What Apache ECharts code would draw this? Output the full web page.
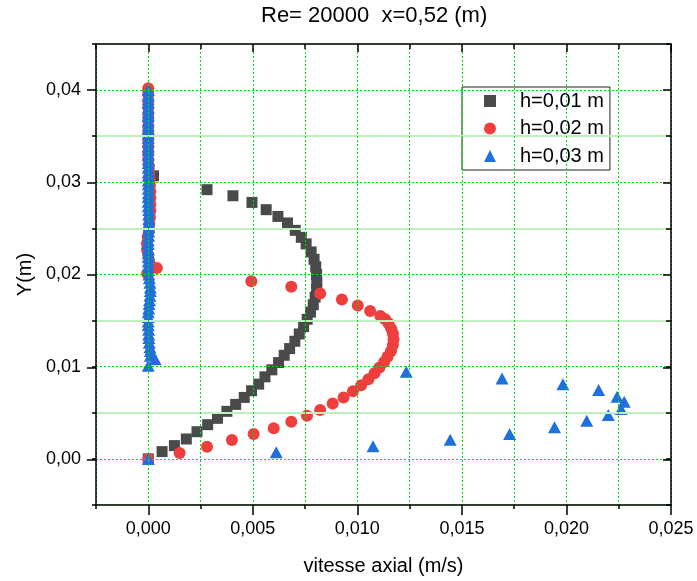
<!DOCTYPE html>
<html>
<head>
<meta charset="utf-8">
<script src="https://cdn.jsdelivr.net/npm/echarts@6/dist/echarts.min.js"></script>
<style>html,body{margin:0;padding:0;background:#fff}#c{width:697px;height:581px}</style>
</head>
<body>
<div id="c"></div>
<script>
// ---- data ----
const titleText = 'Re= 20000  x=0,52 (m)';
const xName = 'vitesse axial (m/s)';
const yName = 'Y(m)';
const seriesNames = ['h=0,01 m', 'h=0,02 m', 'h=0,03 m'];

const xMajorTicks = [0, 0.005, 0.01, 0.015, 0.02, 0.025];
const yMajorTicks = [0, 0.01, 0.02, 0.03, 0.04];

// h = 0,01 m
const blackX = [0, 0.00066, 0.00125, 0.00182, 0.00233, 0.00284, 0.00331, 0.00376, 0.00418, 0.00459,
  0.00494, 0.00528, 0.00558, 0.00591, 0.00623, 0.0065, 0.00676, 0.00701, 0.00722, 0.00743,
  0.0076, 0.00776, 0.00789, 0.00798, 0.00805, 0.00806, 0.00805, 0.00801, 0.00793, 0.00779,
  0.00755, 0.00732, 0.00703, 0.00666, 0.0062, 0.00564, 0.00496, 0.00405, 0.00281, 0.00025];
const blackY = [0, 0.00079, 0.00144, 0.00216, 0.00295, 0.00371, 0.0044, 0.00516, 0.00591, 0.00667,
  0.00739, 0.00811, 0.0089, 0.00966, 0.01045, 0.01124, 0.01196, 0.01276, 0.01355, 0.01435,
  0.01514, 0.01592, 0.01672, 0.01755, 0.01838, 0.01917, 0.02, 0.02083, 0.02165, 0.02245,
  0.02332, 0.02403, 0.02479, 0.02559, 0.0263, 0.02703, 0.02782, 0.02854, 0.0292, 0.0307];

// h = 0,02 m
const redX = [0, 0.0015, 0.00281, 0.004, 0.00504, 0.006, 0.00684, 0.00759, 0.00822, 0.00882,
  0.00934, 0.00979, 0.01018, 0.01053, 0.01082, 0.01106, 0.01128, 0.01145, 0.01161, 0.0117,
  0.01173, 0.0117, 0.01162, 0.01149, 0.01133, 0.0111, 0.01061, 0.01002, 0.00926, 0.00822,
  0.00684, 0.00493, -0.00005, 0.00041, 0.00005, 0, -0.00006, -0.00006, -0.00003, 0.00003,
  0.00005, 0.00008, 0.0001, 0.0001, 0.0001, 0.0001, 0.00008, 0.00005, 0.00005, 0.00003,
  0, 0, 0, 0, 0, 0, 0, 0, 0, 0,
  0, 0, 0];
const redY = [0, 0.00065, 0.00133, 0.00205, 0.0027, 0.00332, 0.00403, 0.00468, 0.0053, 0.00601,
  0.00667, 0.00735, 0.008, 0.00865, 0.0093, 0.00991, 0.01052, 0.0111, 0.01171, 0.01236,
  0.01297, 0.01359, 0.01413, 0.0147, 0.01514, 0.0155, 0.01603, 0.01665, 0.0173, 0.01795,
  0.01867, 0.01928, 0.0201, 0.0207, 0.0214, 0.0221, 0.0227, 0.0234, 0.0241, 0.0248,
  0.0255, 0.0262, 0.0269, 0.0276, 0.0283, 0.029, 0.0297, 0.0304, 0.0311, 0.0318,
  0.0325, 0.0332, 0.0339, 0.0346, 0.0353, 0.036, 0.0367, 0.0374, 0.0381, 0.0388,
  0.0395, 0.0399, 0.0402];

// h = 0,03 m
const blueX = [0, 0.00612, 0.01075, 0.01444, 0.01728, 0.01943, 0.02097, 0.022, 0.02261, 0.02276,
  0.02242, 0.02154, 0.01983, 0.01692, 0.01234, 0, 0.00033, 0.0001, 0.0001, 0.00008,
  0.00005, 0.00003, 0.00002, 0.00002, 0, 0, 0, 0, 0.00002, 0.00004,
  0.00006, 0.00008, 0.0001, 0.0001, 0.00008, 0.00005, 0.00003, 0.00002, 0, 0,
  0, 0, 0, 0, 0, 0.00002, 0.00002, 0.00003, 0.00003, 0.00003,
  0.00002, 0.00002, 0, 0, 0, 0, 0, 0, 0, 0,
  0, 0, 0, 0, 0, 0, 0, 0, 0, 0,
  0, 0, 0, 0, 0, 0, 0, 0, 0, 0];
const blueY = [0, 0.00072, 0.00137, 0.00209, 0.0027, 0.00342, 0.00414, 0.00476, 0.0054, 0.0062,
  0.00674, 0.00746, 0.00811, 0.00872, 0.00944, 0.0101, 0.0108, 0.0112, 0.0117, 0.0121,
  0.0126, 0.0131, 0.0135, 0.014, 0.0145, 0.0149, 0.0154, 0.0159, 0.0163, 0.0168,
  0.0172, 0.0177, 0.0182, 0.0186, 0.0191, 0.0196, 0.02, 0.0205, 0.0209, 0.0214,
  0.0219, 0.0223, 0.0228, 0.0233, 0.0237, 0.0242, 0.0247, 0.0251, 0.0256, 0.026,
  0.0265, 0.027, 0.0274, 0.0279, 0.0284, 0.0288, 0.0293, 0.0298, 0.0302, 0.0307,
  0.0311, 0.0316, 0.0321, 0.0325, 0.033, 0.0335, 0.0339, 0.0344, 0.0348, 0.0353,
  0.0358, 0.0362, 0.0367, 0.0372, 0.0376, 0.0381, 0.0386, 0.039, 0.0395, 0.04];

// ---- chart ----
const FONT = 'Liberation Sans, Arial, sans-serif';
const pairs = (xs, ys) => xs.map((x, i) => [x, ys[i]]);
const gridRect = { left: 96, right: 26, top: 44, bottom: 75 };
const xRange = { min: -0.0025, max: 0.025, interval: 0.0025 };
const yRange = { min: -0.005, max: 0.045, interval: 0.005 };
const GREEN = '#00e000';
const PALE = '#bdf0bd';
const AX = { color: '#000', width: 1.5 };
const none = { show: false };

const chart = echarts.init(document.getElementById('c'), null, { renderer: 'canvas' });
chart.setOption({
  animation: false,
  backgroundColor: '#fff',
  title: {
    text: titleText, left: 261, top: 5, padding: 0,
    textStyle: { fontFamily: FONT, fontSize: 22, fontWeight: 'normal', color: '#000' }
  },
  legend: {
    orient: 'vertical', left: 462, top: 87,
    padding: [4, 6, 4, 22],
    itemWidth: 12, itemHeight: 12, itemGap: 7.5,
    borderColor: '#222', borderWidth: 1, backgroundColor: '#fff',
    textStyle: { fontFamily: FONT, fontSize: 20, lineHeight: 20, color: '#000', padding: [0, 0, 0, 19] },
    data: seriesNames
  },
  grid: [
    Object.assign({}, gridRect),
    Object.assign({}, gridRect)
  ],
  xAxis: [
    Object.assign({ type: 'value', gridIndex: 0, position: 'bottom', z: 5,
      name: xName, nameLocation: 'middle', nameGap: 51,
      nameTextStyle: { fontFamily: FONT, fontSize: 20, color: '#000' },
      axisLine: { show: true, onZero: false, lineStyle: AX },
      axisTick: { show: true, inside: false, length: 4, lineStyle: AX },
      axisLabel: { show: true, customValues: xMajorTicks, margin: 15, fontFamily: FONT, fontSize: 18, color: '#000',
        formatter: v => v.toFixed(3).replace('.', ',') },
      splitLine: { show: true, lineStyle: { color: GREEN, width: 1, type: [2, 2] } }
    }, xRange),
    Object.assign({ type: 'value', gridIndex: 0, position: 'top', z: 5,
      axisLine: { show: true, onZero: false, lineStyle: AX },
      axisTick: { show: true, inside: true, length: 5, lineStyle: AX },
      axisLabel: none, splitLine: none
    }, xRange),
    Object.assign({ type: 'value', gridIndex: 1, position: 'bottom', z: 5,
      axisLine: { show: false, onZero: false },
      axisTick: { show: true, inside: false, length: 9, customValues: xMajorTicks, lineStyle: AX },
      axisLabel: none, splitLine: none
    }, xRange),
    Object.assign({ type: 'value', gridIndex: 1, position: 'top', z: 5,
      axisLine: { show: false, onZero: false },
      axisTick: { show: true, inside: true, length: 8, customValues: xMajorTicks, lineStyle: AX },
      axisLabel: none, splitLine: none
    }, xRange)
  ],
  yAxis: [
    Object.assign({ type: 'value', gridIndex: 0, position: 'left', z: 5,
      name: yName, nameLocation: 'middle', nameGap: 52, nameRotate: 90,
      nameTextStyle: { fontFamily: FONT, fontSize: 20, color: '#000' },
      axisLine: { show: true, onZero: false, lineStyle: AX },
      axisTick: { show: true, inside: false, length: 4, lineStyle: AX },
      axisLabel: { show: true, customValues: yMajorTicks, margin: 15, fontFamily: FONT, fontSize: 18, color: '#000',
        formatter: v => v.toFixed(2).replace('.', ',') },
      splitLine: { show: true, lineStyle: { color: [PALE, 'rgba(0,0,0,0)'], width: 2, type: 'solid' } }
    }, yRange),
    Object.assign({ type: 'value', gridIndex: 0, position: 'right', z: 5,
      axisLine: { show: true, onZero: false, lineStyle: AX },
      axisTick: { show: true, inside: true, length: 5, lineStyle: AX },
      axisLabel: none,
      splitLine: { show: true, lineStyle: { color: ['rgba(0,0,0,0)', GREEN], width: 1, type: [2, 2] } }
    }, yRange),
    Object.assign({ type: 'value', gridIndex: 1, position: 'left', z: 5,
      axisLine: { show: false, onZero: false },
      axisTick: { show: true, inside: false, length: 9, customValues: yMajorTicks, lineStyle: AX },
      axisLabel: none, splitLine: none
    }, yRange),
    Object.assign({ type: 'value', gridIndex: 1, position: 'right', z: 5,
      axisLine: { show: false, onZero: false },
      axisTick: { show: true, inside: true, length: 8, customValues: yMajorTicks, lineStyle: AX },
      axisLabel: none, splitLine: none
    }, yRange)
  ],
  series: [
    { name: seriesNames[0], type: 'scatter', xAxisIndex: 0, yAxisIndex: 0, symbol: 'rect', symbolSize: 11,
      itemStyle: { color: '#4a4a4a', opacity: 1 }, data: pairs(blackX, blackY), z: 2 },
    { name: seriesNames[1], type: 'scatter', xAxisIndex: 0, yAxisIndex: 0, symbol: 'circle', symbolSize: 12,
      itemStyle: { color: '#ef3e3e', opacity: 1 }, data: pairs(redX, redY), z: 3 },
    { name: seriesNames[2], type: 'scatter', xAxisIndex: 0, yAxisIndex: 0, symbol: 'triangle', symbolSize: [13, 12],
      itemStyle: { color: '#1f6fdc', opacity: 1 }, data: pairs(blueX, blueY), z: 4 }
  ]
});
</script>
</body>
</html>
